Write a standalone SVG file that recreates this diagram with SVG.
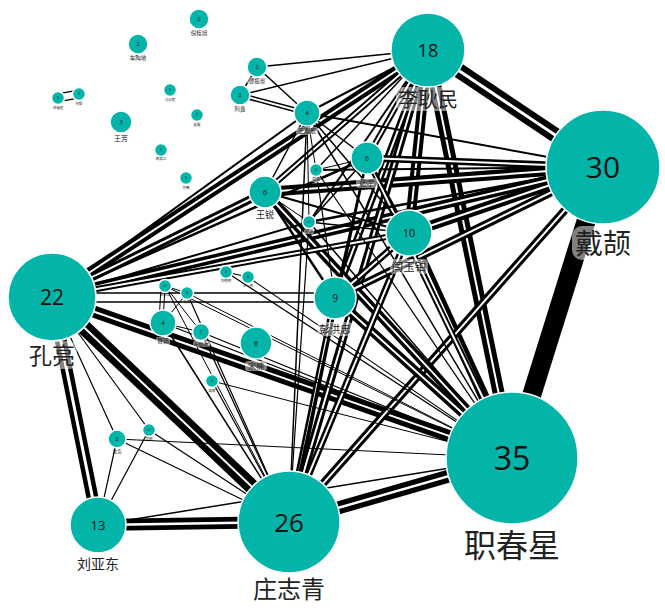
<svg xmlns="http://www.w3.org/2000/svg" width="665" height="611" viewBox="0 0 665 611">
<style>
.k{stroke:#000;stroke-linecap:butt}
.w{stroke:#fff;stroke-linecap:butt}
.t{stroke:#000;stroke-linecap:butt}
.nd circle{fill:#03b5a9;stroke:#fff;stroke-width:1.5}
.num{font-family:"Open Sans","Noto Sans",sans-serif;fill:#111;text-anchor:middle}
.lab{font-family:"Noto Sans CJK SC","Noto Sans",sans-serif;fill:#222;text-anchor:middle}
.bg{fill:#fff;fill-opacity:0.5}
</style>
<rect width="665" height="611" fill="#fff"/>
<g id="connectors">
<line class="k" x1="428" y1="50" x2="603" y2="167" stroke-width="15"/><line class="w" x1="428" y1="50" x2="603" y2="167" stroke-width="3"/>
<line class="k" x1="603" y1="167" x2="512" y2="458" stroke-width="19"/>
<line class="k" x1="428" y1="50" x2="512" y2="458" stroke-width="12"/><line class="w" x1="428" y1="50" x2="512" y2="458" stroke-width="2"/>
<line class="k" x1="512" y1="458" x2="289" y2="522" stroke-width="13"/><line class="w" x1="512" y1="458" x2="289" y2="522" stroke-width="2.5"/>
<line class="k" x1="289" y1="522" x2="98" y2="525" stroke-width="12"/><line class="w" x1="289" y1="522" x2="98" y2="525" stroke-width="2.5"/>
<line class="k" x1="52" y1="297" x2="98" y2="525" stroke-width="12"/><line class="w" x1="52" y1="297" x2="98" y2="525" stroke-width="3"/>
<line class="k" x1="52" y1="297" x2="289" y2="522" stroke-width="15"/><line class="w" x1="52" y1="297" x2="289" y2="522" stroke-width="2"/>
<line class="k" x1="52" y1="297" x2="512" y2="458" stroke-width="12"/><line class="w" x1="52" y1="297" x2="512" y2="458" stroke-width="2"/>
<line class="k" x1="428" y1="50" x2="409" y2="233" stroke-width="10"/><line class="w" x1="428" y1="50" x2="409" y2="233" stroke-width="2"/>
<line class="k" x1="603" y1="167" x2="409" y2="233" stroke-width="10"/><line class="w" x1="603" y1="167" x2="409" y2="233" stroke-width="2"/>
<line class="k" x1="512" y1="458" x2="409" y2="233" stroke-width="11"/><line class="w" x1="512" y1="458" x2="409" y2="233" stroke-width="2"/>
<line class="k" x1="603" y1="167" x2="265" y2="192" stroke-width="10"/><line class="w" x1="603" y1="167" x2="265" y2="192" stroke-width="2"/>
<line class="k" x1="603" y1="167" x2="52" y2="297" stroke-width="9"/><line class="w" x1="603" y1="167" x2="52" y2="297" stroke-width="2"/>
<line class="k" x1="428" y1="50" x2="52" y2="297" stroke-width="10"/><line class="w" x1="428" y1="50" x2="52" y2="297" stroke-width="2"/>
<line class="k" x1="52" y1="297" x2="265" y2="192" stroke-width="8"/><line class="w" x1="52" y1="297" x2="265" y2="192" stroke-width="2"/>
<line class="k" x1="428" y1="50" x2="289" y2="522" stroke-width="8"/><line class="w" x1="428" y1="50" x2="289" y2="522" stroke-width="2"/>
<line class="k" x1="603" y1="167" x2="289" y2="522" stroke-width="8"/><line class="w" x1="603" y1="167" x2="289" y2="522" stroke-width="2"/>
<line class="k" x1="512" y1="458" x2="335" y2="298" stroke-width="9"/><line class="w" x1="512" y1="458" x2="335" y2="298" stroke-width="2"/>
<line class="k" x1="289" y1="522" x2="335" y2="298" stroke-width="7"/><line class="w" x1="289" y1="522" x2="335" y2="298" stroke-width="2"/>
<line class="k" x1="428" y1="50" x2="335" y2="298" stroke-width="7"/><line class="w" x1="428" y1="50" x2="335" y2="298" stroke-width="2"/>
<line class="k" x1="512" y1="458" x2="265" y2="192" stroke-width="9"/><line class="w" x1="512" y1="458" x2="265" y2="192" stroke-width="2"/>
<line class="k" x1="603" y1="167" x2="367" y2="158" stroke-width="7"/><line class="w" x1="603" y1="167" x2="367" y2="158" stroke-width="2"/>
<line class="k" x1="289" y1="522" x2="409" y2="233" stroke-width="7"/><line class="w" x1="289" y1="522" x2="409" y2="233" stroke-width="2"/>
<line class="k" x1="603" y1="167" x2="335" y2="298" stroke-width="8"/><line class="w" x1="603" y1="167" x2="335" y2="298" stroke-width="2"/>
<line class="k" x1="428" y1="50" x2="265" y2="192" stroke-width="6"/><line class="w" x1="428" y1="50" x2="265" y2="192" stroke-width="2"/>
<line class="k" x1="409" y1="233" x2="335" y2="298" stroke-width="7"/><line class="w" x1="409" y1="233" x2="335" y2="298" stroke-width="2"/>
<line class="k" x1="52" y1="297" x2="409" y2="233" stroke-width="6"/><line class="w" x1="52" y1="297" x2="409" y2="233" stroke-width="2"/>
<line class="k" x1="240" y1="95" x2="307" y2="113" stroke-width="5"/><line class="w" x1="240" y1="95" x2="307" y2="113" stroke-width="2"/>
<line class="k" x1="428" y1="50" x2="367" y2="158" stroke-width="6"/><line class="w" x1="428" y1="50" x2="367" y2="158" stroke-width="2"/>
<line class="k" x1="512" y1="458" x2="367" y2="158" stroke-width="6"/><line class="w" x1="512" y1="458" x2="367" y2="158" stroke-width="2"/>
<line class="t" x1="428" y1="50" x2="307" y2="113" stroke-width="2"/>
<line class="t" x1="428" y1="50" x2="257" y2="67" stroke-width="1.5"/>
<line class="t" x1="428" y1="50" x2="240" y2="95" stroke-width="1.5"/>
<line class="t" x1="428" y1="50" x2="316" y2="170" stroke-width="1.5"/>
<line class="t" x1="428" y1="50" x2="309" y2="222" stroke-width="2"/>
<line class="t" x1="603" y1="167" x2="307" y2="113" stroke-width="2"/>
<line class="t" x1="603" y1="167" x2="316" y2="170" stroke-width="2"/>
<line class="t" x1="603" y1="167" x2="309" y2="222" stroke-width="2.5"/>
<line class="t" x1="512" y1="458" x2="307" y2="113" stroke-width="1.5"/>
<line class="t" x1="512" y1="458" x2="316" y2="170" stroke-width="1.2"/>
<line class="t" x1="512" y1="458" x2="309" y2="222" stroke-width="1.5"/>
<line class="t" x1="512" y1="458" x2="163" y2="323" stroke-width="1.2"/>
<line class="t" x1="512" y1="458" x2="201" y2="332" stroke-width="1.2"/>
<line class="t" x1="512" y1="458" x2="165" y2="286" stroke-width="1"/>
<line class="t" x1="512" y1="458" x2="187" y2="293" stroke-width="1"/>
<line class="t" x1="512" y1="458" x2="226" y2="272" stroke-width="1.2"/>
<line class="t" x1="512" y1="458" x2="248" y2="277" stroke-width="1.2"/>
<line class="t" x1="512" y1="458" x2="212" y2="381" stroke-width="1"/>
<line class="t" x1="512" y1="458" x2="117" y2="439" stroke-width="1"/>
<line class="t" x1="512" y1="458" x2="98" y2="525" stroke-width="1.5"/>
<line class="t" x1="289" y1="522" x2="307" y2="113" stroke-width="1.5"/>
<line class="t" x1="289" y1="522" x2="367" y2="158" stroke-width="2.5"/>
<line class="t" x1="289" y1="522" x2="163" y2="323" stroke-width="1.5"/>
<line class="t" x1="289" y1="522" x2="201" y2="332" stroke-width="1.2"/>
<line class="t" x1="289" y1="522" x2="165" y2="286" stroke-width="1"/>
<line class="t" x1="289" y1="522" x2="187" y2="293" stroke-width="1.2"/>
<line class="t" x1="289" y1="522" x2="212" y2="381" stroke-width="1.2"/>
<line class="t" x1="289" y1="522" x2="117" y2="439" stroke-width="1.2"/>
<line class="t" x1="289" y1="522" x2="149" y2="430" stroke-width="1.2"/>
<line class="t" x1="289" y1="522" x2="309" y2="222" stroke-width="1.2"/>
<line class="t" x1="52" y1="297" x2="367" y2="158" stroke-width="2.5"/>
<line class="t" x1="52" y1="297" x2="307" y2="113" stroke-width="2"/>
<line class="t" x1="52" y1="297" x2="309" y2="222" stroke-width="2"/>
<line class="t" x1="52" y1="297" x2="117" y2="439" stroke-width="1.2"/>
<line class="t" x1="52" y1="297" x2="149" y2="430" stroke-width="1.2"/>
<line class="t" x1="90" y1="293" x2="320" y2="293" stroke-width="1.6"/>
<line class="t" x1="90" y1="302" x2="320" y2="302" stroke-width="1.6"/>
<line class="t" x1="98" y1="525" x2="117" y2="439" stroke-width="1.2"/>
<line class="t" x1="98" y1="525" x2="149" y2="430" stroke-width="1.2"/>
<line class="t" x1="409" y1="233" x2="367" y2="158" stroke-width="2"/>
<line class="t" x1="409" y1="233" x2="307" y2="113" stroke-width="1.5"/>
<line class="t" x1="409" y1="233" x2="309" y2="222" stroke-width="1.5"/>
<line class="t" x1="409" y1="233" x2="265" y2="192" stroke-width="2"/>
<line class="t" x1="335" y1="298" x2="367" y2="158" stroke-width="2"/>
<line class="t" x1="335" y1="298" x2="265" y2="192" stroke-width="2.5"/>
<line class="t" x1="335" y1="298" x2="316" y2="170" stroke-width="1.2"/>
<line class="t" x1="367" y1="158" x2="307" y2="113" stroke-width="1.5"/>
<line class="t" x1="367" y1="158" x2="316" y2="170" stroke-width="1"/>
<line class="t" x1="367" y1="158" x2="309" y2="222" stroke-width="1.5"/>
<line class="t" x1="265" y1="192" x2="309" y2="222" stroke-width="1"/>
<line class="t" x1="265" y1="192" x2="307" y2="113" stroke-width="1.5"/>
<line class="t" x1="307" y1="113" x2="316" y2="170" stroke-width="1"/>
<line class="t" x1="307" y1="113" x2="309" y2="222" stroke-width="1"/>
<line class="t" x1="257" y1="67" x2="240" y2="95" stroke-width="1.5"/>
<line class="t" x1="257" y1="67" x2="307" y2="113" stroke-width="1.5"/>
<line class="t" x1="165" y1="286" x2="187" y2="293" stroke-width="1"/>
<line class="t" x1="161" y1="286" x2="159" y2="323" stroke-width="1"/>
<line class="t" x1="165" y1="286" x2="163" y2="323" stroke-width="1"/>
<line class="t" x1="187" y1="293" x2="163" y2="323" stroke-width="1"/>
<line class="t" x1="165" y1="286" x2="201" y2="332" stroke-width="1"/>
<line class="t" x1="226" y1="272" x2="248" y2="277" stroke-width="1.2"/>
<line class="t" x1="163" y1="323" x2="201" y2="332" stroke-width="1"/>
<line class="t" x1="57.7" y1="101.9" x2="79.7" y2="97.9" stroke-width="1.3"/>
<line class="t" x1="56.3" y1="94.1" x2="78.3" y2="90.1" stroke-width="1.3"/>
</g>
<g id="nodes">
<g id="n-lisheng" class="nd"><circle cx="428" cy="50" r="37"/><rect class="bg" x="396" y="87" width="64" height="24" rx="6"/><text class="num" x="428" y="56.5" font-size="18">18</text><text class="lab" x="428" y="106.5" font-size="20">李耿民</text></g>
<g id="n-daijie" class="nd"><circle cx="603" cy="167" r="57"/><rect class="bg" x="572" y="226" width="62" height="34" rx="10"/><text class="num" x="603" y="178" font-size="30">30</text><text class="lab" x="603" y="253.5" font-size="28">戴颉</text></g>
<g id="n-zhichunxing" class="nd"><circle cx="512" cy="458" r="66"/><rect class="bg" x="461" y="526" width="102" height="38" rx="10"/><text class="num" x="512" y="469.5" font-size="32">35</text><text class="lab" x="512" y="557" font-size="32">职春星</text></g>
<g id="n-zhuangzhiqing" class="nd"><circle cx="289" cy="522" r="51"/><rect class="bg" x="250" y="575" width="78" height="28" rx="8"/><text class="num" x="289" y="531.5" font-size="26">26</text><text class="lab" x="289" y="598" font-size="24">庄志青</text></g>
<g id="n-kongliang" class="nd"><circle cx="52" cy="297" r="44"/><rect class="bg" x="27" y="341" width="50" height="28" rx="8"/><text class="num" x="52" y="304.5" font-size="21">22</text><text class="lab" x="52" y="363.6" font-size="23">孔亮</text></g>
<g id="n-liuyadong" class="nd"><circle cx="98" cy="525" r="28"/><rect class="bg" x="75" y="555" width="46" height="18" rx="5"/><text class="num" x="98" y="529.7" font-size="13">13</text><text class="lab" x="98" y="569.2" font-size="14">刘亚东</text></g>
<g id="n-yanyubo" class="nd"><circle cx="409" cy="233" r="23"/><rect class="bg" x="390" y="259" width="38" height="15" rx="4"/><text class="num" x="409" y="237" font-size="11">10</text><text class="lab" x="409" y="271.3" font-size="11.5">闫玉铂</text></g>
<g id="n-penghongzhong" class="nd"><circle cx="335" cy="298" r="21"/><rect class="bg" x="317.5" y="322" width="35" height="14" rx="4"/><text class="num" x="335" y="301.6" font-size="10">9</text><text class="lab" x="335" y="333" font-size="10.5">彭洪忠</text></g>
<g id="n-zhangyu" class="nd"><circle cx="367" cy="158" r="16"/><rect class="bg" x="356" y="178" width="22" height="10" rx="3"/><text class="num" x="367" y="160.5" font-size="7">6</text><text class="lab" x="367" y="185.8" font-size="7.5">张宇</text></g>
<g id="n-wangrui" class="nd"><circle cx="265" cy="192" r="16"/><rect class="bg" x="254" y="209.5" width="22" height="11" rx="3"/><text class="num" x="265" y="195" font-size="8">6</text><text class="lab" x="265" y="218.4" font-size="9">王锐</text></g>
<g id="n-songnan" class="nd"><circle cx="256" cy="343" r="16"/><rect class="bg" x="245" y="361" width="22" height="10" rx="3"/><text class="num" x="256" y="345.5" font-size="7">6</text><text class="lab" x="256" y="369" font-size="8">宋楠</text></g>
<g id="n-wangchenchen" class="nd"><circle cx="307" cy="113" r="13"/><rect class="bg" x="296" y="127" width="22" height="8" rx="2"/><text class="num" x="307" y="115" font-size="6">4</text><text class="lab" x="307" y="133.3" font-size="6">王辰辰</text></g>
<g id="n-tanzhenhao" class="nd"><circle cx="257" cy="67" r="10"/><rect class="bg" x="247" y="77" width="20" height="7" rx="2"/><text class="num" x="257" y="68.8" font-size="5">2</text><text class="lab" x="257" y="82.6" font-size="5.5">谭振豪</text></g>
<g id="n-axin" class="nd"><circle cx="240" cy="95" r="10"/><rect class="bg" x="233" y="105" width="14" height="7" rx="2"/><text class="num" x="240" y="96.8" font-size="5">2</text><text class="lab" x="240" y="110.6" font-size="5.5">阿鑫</text></g>
<g id="n-caoying" class="nd"><circle cx="163" cy="323" r="13"/><rect class="bg" x="156" y="337" width="14" height="8" rx="2"/><text class="num" x="163" y="325" font-size="6">4</text><text class="lab" x="163" y="343.3" font-size="6">曹颖</text></g>
<g id="n-yejishuai" class="nd"><circle cx="201" cy="332" r="8.5"/><rect class="bg" x="193" y="341" width="17" height="6" rx="2"/><text class="num" x="201" y="333.6" font-size="4.5">1</text><text class="lab" x="201" y="345.9" font-size="5">叶继帅</text></g>
<g id="n-zhengtao" class="nd"><circle cx="316" cy="170" r="6.5"/><rect class="bg" x="311" y="177" width="10" height="5" rx="1.5"/><text class="num" x="316" y="171.3" font-size="3.5">0</text><text class="lab" x="316" y="180.5" font-size="4">郑涛</text></g>
<g id="n-ligang" class="nd"><circle cx="309" cy="222" r="6.5"/><rect class="bg" x="304" y="229" width="10" height="5" rx="1.5"/><text class="num" x="309" y="223.3" font-size="3.5">0</text><text class="lab" x="309" y="232.5" font-size="4">李刚</text></g>
<g id="n-wangfang" class="nd"><circle cx="121" cy="122" r="11"/><text class="num" x="121" y="124" font-size="5.5">3</text><text class="lab" x="121" y="140.6" font-size="7">王芳</text></g>
<g id="n-niguixu" class="nd"><circle cx="199" cy="19" r="10"/><text class="num" x="199" y="20.8" font-size="5">2</text><text class="lab" x="199" y="35" font-size="5.5">倪桂旭</text></g>
<g id="n-chetaodi" class="nd"><circle cx="138" cy="44" r="10"/><text class="num" x="138" y="45.8" font-size="5">2</text><text class="lab" x="138" y="60" font-size="5.5">车陶地</text></g>
<g id="n-dengfuting" class="nd"><circle cx="58" cy="98" r="6.5"/><text class="num" x="58" y="99.3" font-size="3.5">0</text><text class="lab" x="58" y="109.3" font-size="3.5">邓福庭</text></g>
<g id="n-sunyi" class="nd"><circle cx="79" cy="94" r="6.5"/><text class="num" x="79" y="95.3" font-size="3.5">0</text><text class="lab" x="79" y="105.3" font-size="3.5">孙毅</text></g>
<g id="n-fengyongchao" class="nd"><circle cx="170" cy="90" r="6.5"/><text class="num" x="170" y="91.3" font-size="3.5">0</text><text class="lab" x="170" y="101.3" font-size="3.5">冯永超</text></g>
<g id="n-shilei" class="nd"><circle cx="197" cy="115" r="6.5"/><text class="num" x="197" y="116.3" font-size="3.5">0</text><text class="lab" x="197" y="126.3" font-size="3.5">史磊</text></g>
<g id="n-zhouzhenjiang" class="nd"><circle cx="161" cy="150" r="6.5"/><text class="num" x="161" y="151.3" font-size="3.5">0</text><text class="lab" x="161" y="160.3" font-size="3.5">周振江</text></g>
<g id="n-liuchang" class="nd"><circle cx="186" cy="178" r="6.5"/><text class="num" x="186" y="179.3" font-size="3.5">0</text><text class="lab" x="186" y="189.3" font-size="3.5">刘畅</text></g>
<g id="n-zhaohaitao" class="nd"><circle cx="165" cy="286" r="6.5"/><text class="num" x="165" y="287.3" font-size="3.5">0</text><text class="lab" x="165" y="296.3" font-size="3.5">赵海涛</text></g>
<g id="n-sunzhen" class="nd"><circle cx="187" cy="293" r="6.5"/><text class="num" x="187" y="294.3" font-size="3.5">0</text><text class="lab" x="187" y="303.3" font-size="3.5">孙振</text></g>
<g id="n-liuxiaoming" class="nd"><circle cx="226" cy="272" r="6.5"/><text class="num" x="226" y="273.3" font-size="3.5">0</text><text class="lab" x="226" y="282.3" font-size="3.5">刘晓明</text></g>
<g id="n-wangyiming" class="nd"><circle cx="248" cy="277" r="6.5"/><text class="num" x="248" y="278.3" font-size="3.5">0</text><text class="lab" x="248" y="287.3" font-size="3.5">王一鸣</text></g>
<g id="n-gaohui" class="nd"><circle cx="212" cy="381" r="6.5"/><text class="num" x="212" y="382.3" font-size="3.5">0</text><text class="lab" x="212" y="392.3" font-size="3.5">高辉</text></g>
<g id="n-shenhao" class="nd"><circle cx="117" cy="439" r="9"/><text class="num" x="117" y="440.8" font-size="5">2</text><text class="lab" x="117" y="453" font-size="4.5">沈浩</text></g>
<g id="n-wuyan" class="nd"><circle cx="149" cy="430" r="6.5"/><text class="num" x="149" y="431.3" font-size="3.5">0</text><text class="lab" x="149" y="440.3" font-size="3.5">吴研</text></g>
</g>
</svg>
